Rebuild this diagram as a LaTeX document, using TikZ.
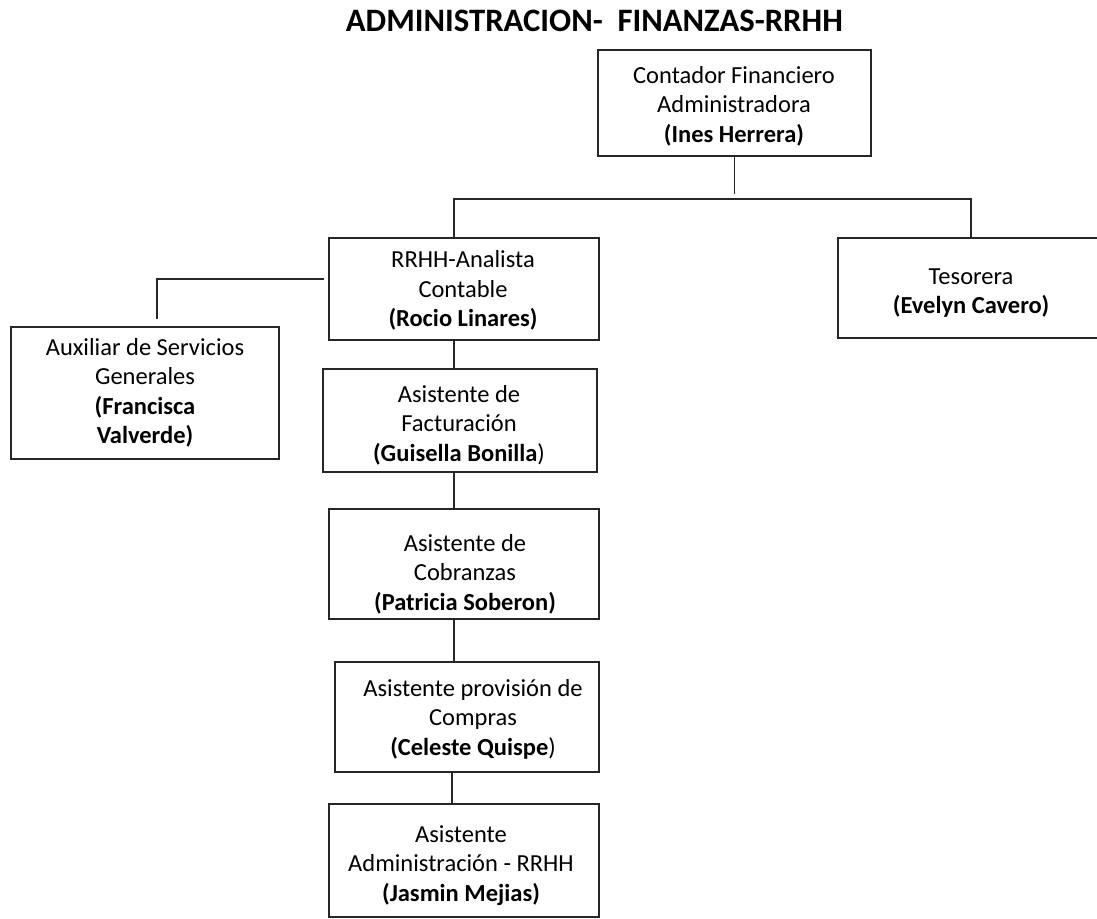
\documentclass[tikz,border=0pt]{standalone}
\usepackage{fontspec}
\setmainfont{Carlito}
\begin{document}
\begin{tikzpicture}[x=1pt,y=-1pt,
  box/.style={draw=black!85, line width=1.3pt, rectangle, inner sep=0pt},
  txt/.style={align=center, inner sep=0pt, font=\fontsize{24.5}{29.5}\selectfont},
  link/.style={draw=black!85, line width=1.3pt},
  heading/.style={inner sep=0pt, font=\fontsize{32.7}{39}\selectfont\bfseries}]
\useasboundingbox (0,0) rectangle (1097,918);

% title
\node[heading, anchor=base east] (title) at (843,31) {ADMINISTRACION-\ \ FINANZAS-RRHH};

% boxes
\node[box, minimum width=273pt, minimum height=106pt] (top)  at (734.5,103) {};
\node[box, minimum width=270pt, minimum height=102pt] (rrhh) at (464,289) {};
\node[box, minimum width=266pt, minimum height=100pt] (tes)  at (971,288) {};
\node[box, minimum width=268pt, minimum height=132pt] (aux)  at (145,393) {};
\node[box, minimum width=274pt, minimum height=103pt] (fact) at (460,420.5) {};
\node[box, minimum width=270pt, minimum height=110pt] (cob)  at (464,564) {};
\node[box, minimum width=264pt, minimum height=110pt] (comp) at (467,717) {};
\node[box, minimum width=270pt, minimum height=113pt] (jas)  at (464,860.5) {};

% labels
\node[txt] (topT)  at (734,106) {Contador Financiero\\Administradora\\\textbf{(Ines Herrera)}};
\node[txt] (tesT)  at (971,293) {Tesorera\\\textbf{(Evelyn Cavero)}};
\node[txt] (rrhhT) at (463,290.5) {RRHH-Analista\\Contable\\\textbf{(Rocio Linares)}};
\node[txt] (auxT)  at (145,393) {Auxiliar de Servicios\\Generales\\\textbf{(Francisca}\\\textbf{Valverde)}};
\node[txt] (factT) at (459,425) {Asistente de\\Facturación\\\textbf{(Guisella Bonilla})};
\node[txt] (cobT)  at (465,574) {Asistente de\\Cobranzas\\\textbf{(Patricia Soberon)}};
\node[txt] (compT) at (473,719) {Asistente provisión de\\Compras\\\textbf{(Celeste Quispe})};
\node[txt] (jasT)  at (461,865.5) {Asistente\\Administración - RRHH\\\textbf{(Jasmin Mejias)}};

% connector points
\coordinate (busL)  at (454,199);
\coordinate (busR)  at (971,199);
\coordinate (spine) at (454,0);
\coordinate (auxK)  at (157,279);

% connectors
\draw[link, shorten >=5pt] (top.south) -- (top.south |- busL);
\draw[link] (busL |- rrhh.north) -- (busL) -- (busR) -- (busR |- tes.north);
\draw[link, shorten <=4pt, shorten >=7pt] (auxK -| rrhh.west) -- (auxK) -- (auxK |- aux.north);
\draw[link] (spine |- rrhh.south) -- (spine |- fact.north);
\draw[link] (spine |- fact.south) -- (spine |- cob.north);
\draw[link] (spine |- cob.south) -- (spine |- comp.north);
\draw[link] ([xshift=-2pt]spine |- comp.south) -- ([xshift=-2pt]spine |- jas.north);
\end{tikzpicture}
\end{document}
